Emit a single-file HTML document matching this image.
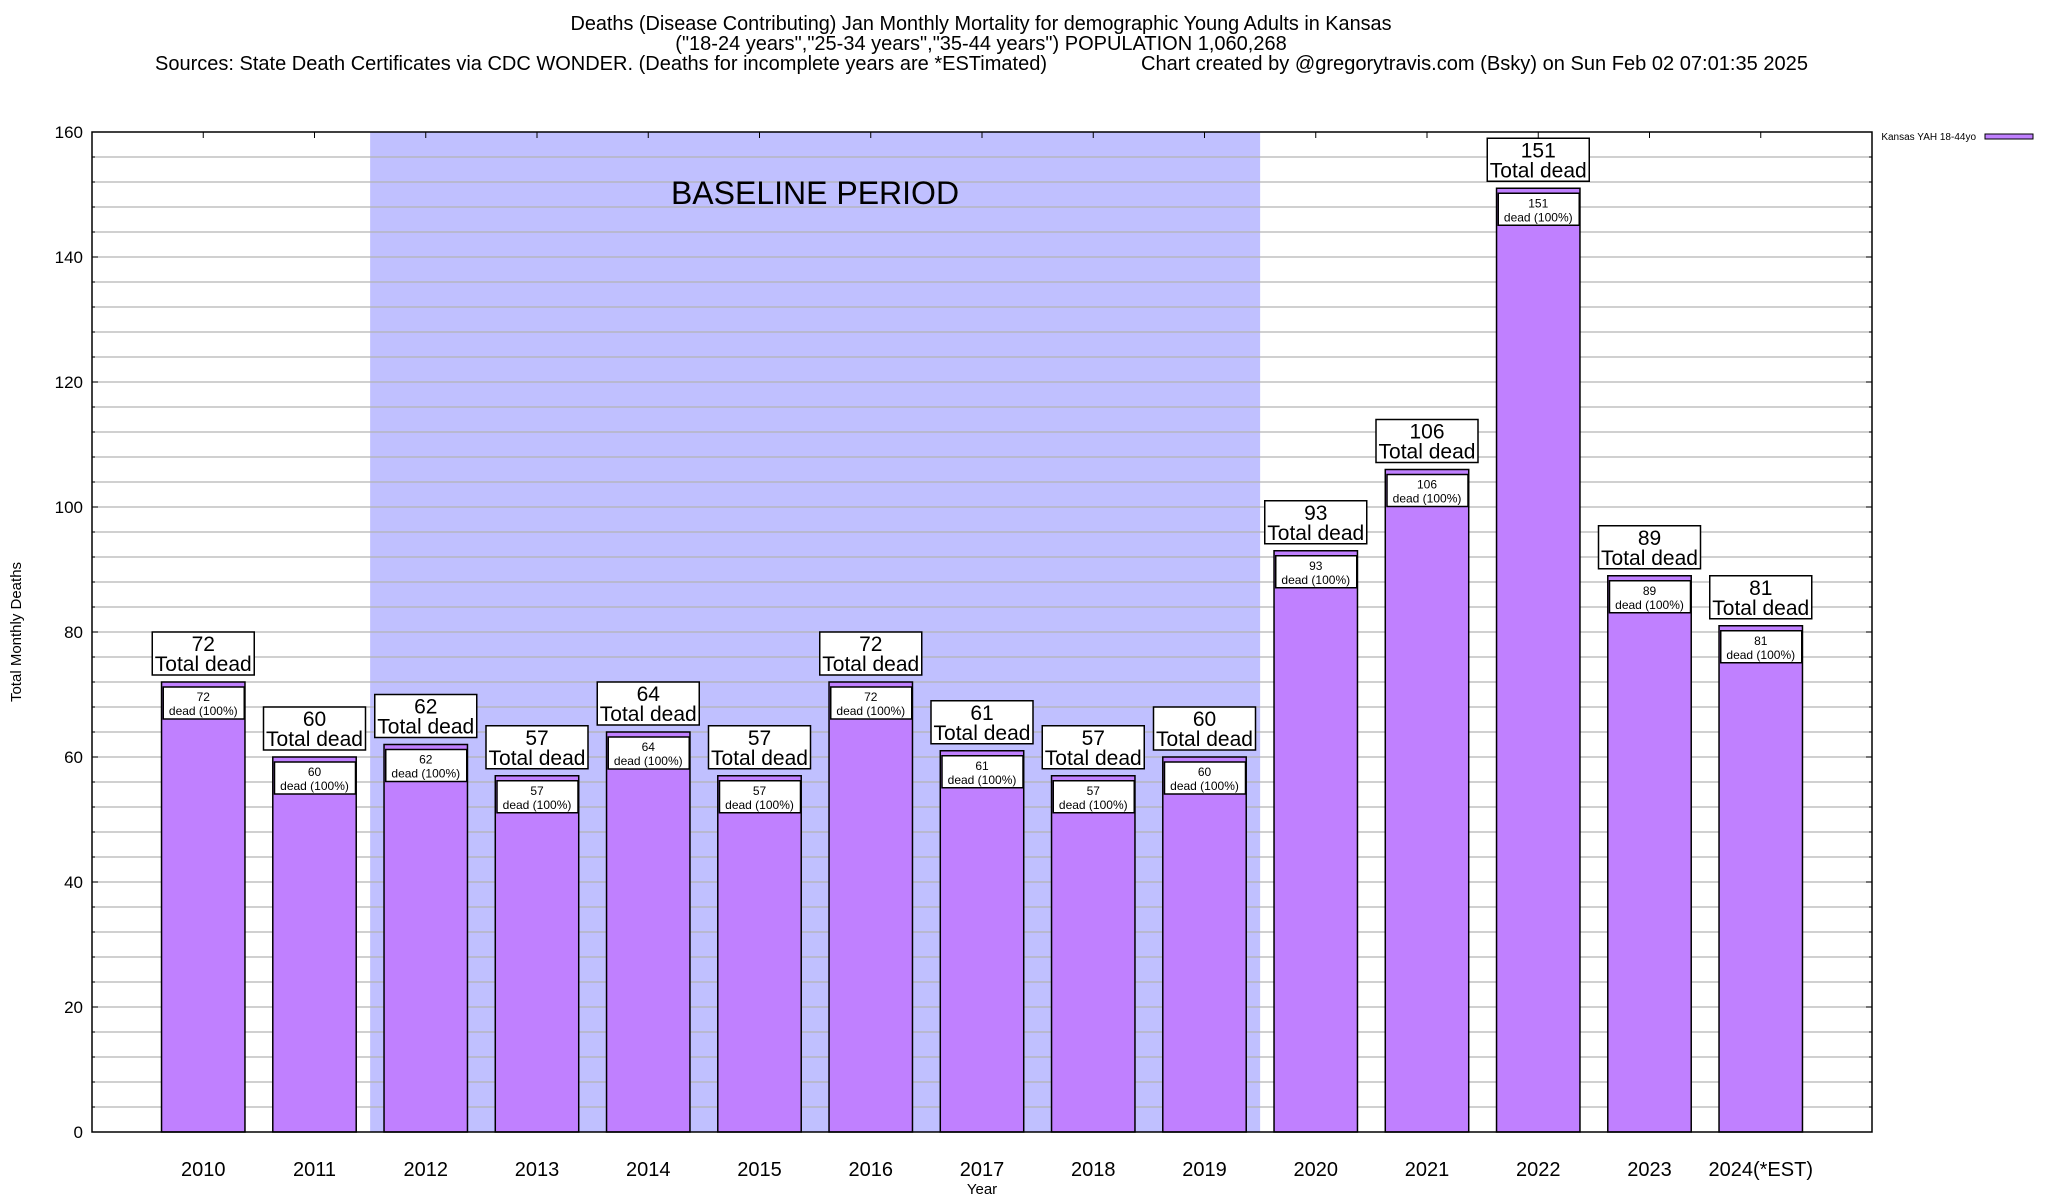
<!DOCTYPE html>
<html><head><meta charset="utf-8"><style>
html,body{margin:0;padding:0;background:#fff}
svg{display:block;font-family:"Liberation Sans",Arial,sans-serif}
</style></head><body>
<svg id="chart" width="2048" height="1200" viewBox="0 0 2048 1200" xmlns="http://www.w3.org/2000/svg">
<g font-size="20" fill="#000">
<text x="981" y="30" text-anchor="middle" textLength="821" lengthAdjust="spacingAndGlyphs">Deaths (Disease Contributing) Jan Monthly Mortality for demographic Young Adults in Kansas</text>
<text x="981" y="50" text-anchor="middle">("18-24 years","25-34 years","35-44 years") POPULATION 1,060,268</text>
<text x="155" y="70" textLength="892" lengthAdjust="spacingAndGlyphs">Sources: State Death Certificates via CDC WONDER. (Deaths for incomplete years are *ESTimated)</text>
<text x="1141" y="70" textLength="667" lengthAdjust="spacingAndGlyphs">Chart created by @gregorytravis.com (Bsky) on Sun Feb 02 07:01:35 2025</text>
</g>
<g id="plot"></g>
<text x="21" y="632" font-size="15" text-anchor="middle" transform="rotate(-90 21 632)">Total Monthly Deaths</text>
<text x="982" y="1194" font-size="15" text-anchor="middle">Year</text>
<g>
<text x="1976" y="140" font-size="10" text-anchor="end">Kansas YAH 18-44yo</text>
<rect x="1985" y="134" width="48" height="5" fill="#c080ff" stroke="#000" stroke-width="1"/>
</g>
</svg>
<script>
const categories = ["2010","2011","2012","2013","2014","2015","2016","2017","2018","2019","2020","2021","2022","2023","2024(*EST)"];
const deaths = [72,60,62,57,64,57,72,61,57,60,93,106,151,89,81];
const yTicks = [0,20,40,60,80,100,120,140,160];
const baselineStart = 2, baselineEnd = 9;

const NS = "http://www.w3.org/2000/svg";
const L = 92, R = 1872, T = 132, B = 1132, yMax = 160;
const slot = (R - L) / 16;
const xs = i => L + (i + 1) * slot;
const ys = v => B - (v / yMax) * (B - T);
const g = document.getElementById('plot');
function mk(tag, attrs, parent, text) {
  const e = document.createElementNS(NS, tag);
  for (const k in attrs) e.setAttribute(k, attrs[k]);
  if (text !== undefined) e.textContent = text;
  (parent || g).appendChild(e);
  return e;
}
const bs = mk('rect', {x: xs(baselineStart) - slot/2, y: T, width: (baselineEnd - baselineStart + 1) * slot, height: B - T, fill: '#c0c0ff'});


for (let v = 4; v < yMax; v += 4) {
  const gl = mk('line', {x1: L, x2: R, y1: ys(v), y2: ys(v), stroke: '#b4b4b4', 'stroke-width': 1.3});
  
  
  mk('line', {x1: L, x2: L + (v % 20 === 0 ? 6 : 3), y1: ys(v), y2: ys(v), stroke: '#000'});
  mk('line', {x1: R, x2: R - (v % 20 === 0 ? 6 : 3), y1: ys(v), y2: ys(v), stroke: '#000'});
}
const bl = mk('text', {x: 815, y: 204, 'font-size': 32, 'text-anchor': 'middle'}, g, 'BASELINE PERIOD');


yTicks.forEach(v => {
  const t = mk('text', {x: 83, y: ys(v) + 6, 'font-size': 17, 'text-anchor': 'end'}, g, String(v));
  
  
});
const bw = slot * 0.75;
categories.forEach((c, i) => {
  const v = deaths[i], cx = xs(i), top = ys(v);
  mk('line', {x1: cx, x2: cx, y1: T, y2: T + 6, stroke: '#000'});
  mk('line', {x1: cx, x2: cx, y1: B, y2: B - 6, stroke: '#000'});
  const bar = mk('rect', {x: cx - bw/2, y: top, width: bw, height: B - top, fill: '#c080ff', stroke: '#000', 'stroke-width': 1.5});
  
  
  const ib = mk('rect', {x: cx - 40, y: top + 5, width: 81, height: 32, fill: '#fff', stroke: '#000', 'stroke-width': 1.5});
  
  
  mk('text', {x: cx, y: top + 19, 'font-size': 12, 'text-anchor': 'middle'}, g, String(v));
  mk('text', {x: cx, y: top + 33, 'font-size': 12, 'text-anchor': 'middle'}, g, 'dead (100%)');
  const ob = mk('rect', {x: cx - 51, y: top - 50, width: 102, height: 43, fill: '#fff', stroke: '#000', 'stroke-width': 1.5});
  
  
  mk('text', {x: cx, y: top - 31, 'font-size': 21, 'text-anchor': 'middle'}, g, String(v));
  mk('text', {x: cx, y: top - 11, 'font-size': 21, 'text-anchor': 'middle'}, g, 'Total dead');
  const xl = mk('text', {x: cx, y: 1176, 'font-size': 20, 'text-anchor': 'middle'}, g, c);
  
  
});
const fr = mk('rect', {x: L, y: T, width: R - L, height: B - T, fill: 'none', stroke: '#000', 'stroke-width': 1.5});


</script>
</body></html>
